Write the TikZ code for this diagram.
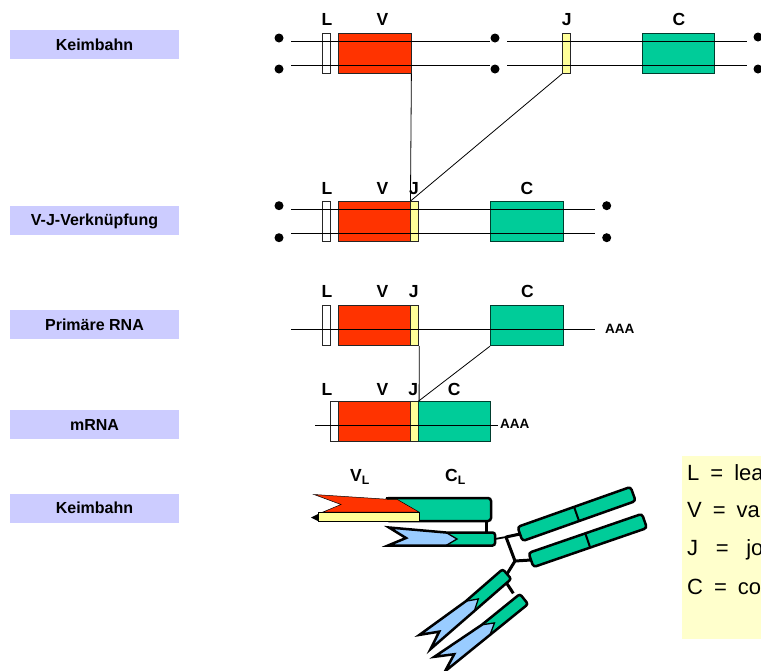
\documentclass[tikz,border=0pt]{standalone}
\usepackage{fontspec}
\setmainfont{Liberation Sans}
\definecolor{stage}{HTML}{CCCCFF}
\definecolor{vred}{HTML}{FF3300}
\definecolor{jyel}{HTML}{FFFF99}
\definecolor{cgrn}{HTML}{00CC99}
\definecolor{vblue}{HTML}{99CCFF}
\definecolor{legbg}{HTML}{FFFFCC}
\begin{document}
\begin{tikzpicture}[x=1pt,y=-1pt,
  stagebox/.style={fill=stage, minimum width=169pt, minimum height=29pt, inner sep=0pt,
    text height=11.5pt, text depth=0.5pt, font=\fontsize{16}{18}\selectfont\bfseries},
  seg/.style={draw=black!85, line width=0.8pt, inner sep=0pt, minimum height=40pt},
  lseg/.style={seg, fill=white, minimum width=8.4pt},
  vseg/.style={seg, fill=vred, minimum width=72.7pt},
  jseg/.style={seg, fill=jyel, minimum width=8pt},
  cseg/.style={seg, fill=cgrn, draw=black!70!cgrn, minimum width=72.4pt},
  glabel/.style={font=\fontsize{17.5}{19}\selectfont\bfseries, inner sep=0pt, anchor=base},
  polya/.style={font=\fontsize{13.5}{15}\selectfont\bfseries, inner sep=0pt, anchor=base west},
  strand/.style={line width=0.9pt},
  link/.style={line width=0.8pt},
  endpt/.style={circle, fill=black, inner sep=0pt, minimum size=9pt},
  chainline/.style={line width=2.5pt, line join=miter},
  hingeline/.style={line width=3pt},
  ablabel/.style={font=\fontsize{17.5}{19}\selectfont\bfseries, inner sep=0pt, anchor=base west},
  legtext/.style={font=\fontsize{22}{25}\selectfont, inner sep=0pt, anchor=base west},
  abchain/.pic={
    \fill[cgrn] (0,-6.5) -- (49,-6.5) -- (38,0) -- (49,6.5) -- (0,6.5) -- cycle;
    \fill[vblue] (49,6.5) -- (38,0) -- (49,-6.5) -- (107,-6.5) -- (89,1) -- (106,11.5) -- cycle;
    \draw[line width=1.3pt] (49,6.5) -- (38,0) -- (49,-6.5);
    \draw[chainline] (25,6.5) [rounded corners=2.5pt] -- (0,6.5) -- (0,-6.5) [sharp corners]
      -- (107,-6.5) -- (89,1) -- (106,11.5) -- (49,6.5) -- cycle;
    \coordinate (-end) at (0,0);
  },
  fcbar/.pic={
    \draw[chainline, fill=cgrn, rounded corners=3pt] (0,-7.5) rectangle (120,7.5);
    \draw[line width=2pt] (60,-7.5) -- (60,7.5);
    \coordinate (-end) at (0,0);
  }
]
\useasboundingbox (0,0) rectangle (761,670);
\clip (0,0) rectangle (761,670);

% stage labels
\node[stagebox] (s1) at (94.5,44.5) {Keimbahn};
\node[stagebox] (s2) at (94.5,220.3) {V-J-Verknüpfung};
\node[stagebox] (s3) at (94.5,324.5) {Primäre RNA};
\node[stagebox] (s4) at (94.5,424.5) {mRNA};
\node[stagebox] (s5) at (94.5,508) {Keimbahn};

% germline
\node[lseg] (l1) at (326.5,53.3) {};
\node[vseg] (v1) at (374.65,53.3) {};
\node[jseg] (j1) at (566.65,53.3) {};
\node[cseg] (c1) at (678.65,53.3) {};
\draw[strand] (291,41.7) -- (490,41.7);
\draw[strand] (291,65.3) -- (490,65.3);
\draw[strand] (507,41.7) -- (746.7,41.7);
\draw[strand] (507,65.3) -- (746.7,65.3);
\node[endpt] (d1a) at (279,38) {};
\node[endpt] (d1b) at (279,69) {};
\node[endpt] (d1c) at (495,38) {};
\node[endpt] (d1d) at (495,69) {};
\node[endpt] (d1e) at (758,37) {};
\node[endpt] (d1f) at (758,69) {};
\node[glabel] at (327,25) {L};
\node[glabel] at (382.5,25) {V};
\node[glabel] at (566.7,25) {J};
\node[glabel] at (679,25) {C};

% V-J joined
\node[lseg] (l2) at (326.5,221.5) {};
\node[vseg] (v2) at (374.65,221.5) {};
\node[jseg] (j2) at (414.85,221.5) {};
\node[cseg] (c2) at (526.7,221.5) {};
\draw[strand] (291,209.7) -- (595,209.7);
\draw[strand] (291,233.3) -- (595,233.3);
\node[endpt] (d2a) at (279,205.7) {};
\node[endpt] (d2b) at (279,237.7) {};
\node[endpt] (d2c) at (606.7,205.7) {};
\node[endpt] (d2d) at (606.7,237.7) {};
\node[glabel] at (327,194) {L};
\node[glabel] at (382.5,194) {V};
\node[glabel] at (414,194) {J};
\node[glabel] at (527,194) {C};

% primary transcript
\node[lseg] (l3) at (326.5,325.7) {};
\node[vseg] (v3) at (374.65,325.7) {};
\node[jseg] (j3) at (414.85,325.7) {};
\node[cseg] (c3) at (526.7,325.7) {};
\draw[strand] (291,329.3) -- (595,329.3);
\node[polya] (a3) at (605,333.5) {AAA};
\node[glabel] at (327,297.7) {L};
\node[glabel] at (382.5,297.7) {V};
\node[glabel] at (413.7,297.7) {J};
\node[glabel] at (527.5,297.7) {C};

% mRNA
\node[seg, fill=white, minimum width=8pt] (l4) at (334.7,421.7) {};
\node[vseg, minimum width=72pt] (v4) at (374.7,421.7) {};
\node[jseg] (j4) at (414.7,421.7) {};
\node[cseg, minimum width=72pt] (c4) at (454.7,421.7) {};
\draw[strand] (315,425) -- (498.3,425);
\node[polya] (a4) at (500,428.5) {AAA};
\node[glabel] at (327,395) {L};
\node[glabel] at (382.5,395) {V};
\node[glabel] at (413.3,395) {J};
\node[glabel] at (454.2,395) {C};

% rearrangement and splicing
\draw[link] (v1.south east) -- (j2.north west);
\draw[link] (j1.south west) -- (j2.north west);
\draw[link] (j3.south east) -- (j4.north east);
\draw[link] (c3.south west) -- (c4.north west);

% antibody: hinge and disulfide links
\coordinate (hA) at (506,537);
\coordinate (hB) at (515,561);
\coordinate (hc1end) at (495,539);
\coordinate (fc1end) at (520,534);
\coordinate (fc2end) at (531,560);
\coordinate (hc2top) at (507,574);
\coordinate (lc2top) at (524,599);
\coordinate (lc1b) at (486,521);
\coordinate (hc1t) at (486,533);
\coordinate (h2link) at (506.7,583.3);
\coordinate (l2link) at (513.3,593.3);
\draw[hingeline] (lc1b) -- (hc1t);
\draw[line width=1.8pt] (hc1end) -- (hA);
\draw[hingeline] (hA) -- (fc1end);
\draw[hingeline] (hA) -- (hB) -- (fc2end);
\draw[hingeline] (hB) -- (hc2top);
\draw[hingeline] (h2link) -- (l2link);

% heavy and light chains
\pic[rotate=180] (hc1) at (hc1end) {abchain};
\pic[rotate=19.5] (fc1) at (fc1end) {fcbar};
\pic[rotate=19] (fc2) at (fc2end) {fcbar};
\pic[rotate=221] (hc2) at (hc2top) {abchain};
\pic[rotate=219] (lc2) at (lc2top) {abchain};

% light chain of the horizontal arm
\draw[chainline, fill=cgrn, rounded corners=3pt] (386,498) rectangle (491,521);
\filldraw[fill=vred, draw=black, line width=0.5pt] (314,494.5) -- (388,499.3) -- (397,499.3)
  -- (419,512) -- (323,512) -- (341,504.5) -- cycle;
\filldraw[fill=jyel, draw=black, line width=0.6pt] (318,512) rectangle (419,521);
\fill (311,517.5) -- (318,514) -- (318,521) -- cycle;
\draw[chainline] (386,498) -- (489,498);
\draw[chainline] (419,521) -- (489,521);

\node[ablabel] (vl) at (350,481.7) {V\textsubscript{L}};
\node[ablabel] (cl) at (445,481.7) {C\textsubscript{L}};

% legend
\fill[legbg] (681.7,456) rectangle (770,639.3);
\node[legtext] (lgl) at (687,480) {L\hspace{0.5em}=\hspace{0.5em}lea};
\node[legtext] (lgv) at (687,517) {V\hspace{0.5em}=\hspace{0.5em}va};
\node[legtext] (lgj) at (687,555) {J\hspace{0.8em}=\hspace{0.8em}jo};
\node[legtext] (lgc) at (687,594) {C\hspace{0.5em}=\hspace{0.5em}co};
\end{tikzpicture}
\end{document}
